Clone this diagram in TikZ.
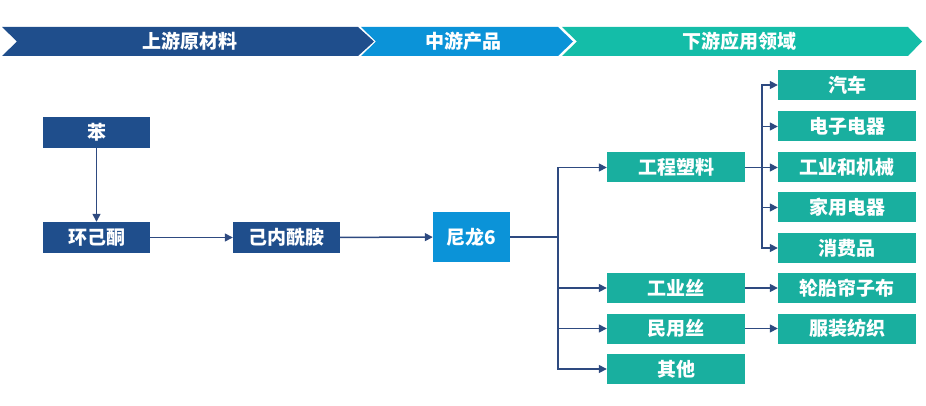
\documentclass[tikz,border=0pt]{standalone}
\usepackage{fontspec}
\newfontfamily\cjk{Noto Sans CJK SC}
\usetikzlibrary{arrows.meta}
\definecolor{upblue}{HTML}{1F4E8C}
\definecolor{midblue}{HTML}{0B93D8}
\definecolor{downteal}{HTML}{14BDA8}
\definecolor{boxteal}{HTML}{19AF9F}
\definecolor{linkblue}{HTML}{2E4A80}
\tikzset{
  box/.style={inner sep=0pt, text=white, font=\cjk\bfseries\fontsize{19}{21}\selectfont},
  upbox/.style={box, fill=upblue, minimum width=107pt, minimum height=31pt},
  nylonbox/.style={box, fill=midblue, minimum width=77pt, minimum height=50pt},
  usebox/.style={box, fill=boxteal, minimum width=138pt, minimum height=30pt},
  head/.style={text=white, font=\cjk\bfseries\fontsize{19}{21}\selectfont},
  link/.style={draw=linkblue, line width=1.5pt},
  arr/.style={link, -{Triangle[length=8pt,width=8pt]}}
}
\begin{document}
\begin{tikzpicture}[x=1pt,y=-1pt]
\useasboundingbox (0,0) rectangle (926,406);
% header chevrons
\fill[upblue] (2,27) -- (358,27) -- (374,41.5) -- (358,56) -- (2,56) -- (17,41.5) -- cycle;
\fill[midblue] (361,27) -- (558,27) -- (573,41.5) -- (558,56) -- (361,56) -- (376,41.5) -- cycle;
\fill[downteal] (562,27) -- (908,27) -- (922,41.5) -- (908,56) -- (562,56) -- (577,41.5) -- cycle;
\node[head] (up) at (190,41.5) {上游原材料};
\node[head] (mid) at (463,41.5) {中游产品};
\node[head] (down) at (739,41.5) {下游应用领域};
% upstream
\node[upbox] (ben) at (96.5,132.5) {苯};
\node[upbox] (hjt) at (96.5,237.5) {环己酮};
\node[upbox] (jnxa) at (286.5,237.5) {己内酰胺};
\node[nylonbox] (nl) at (471.5,237) {尼龙6};
% products
\node[usebox] (gcsl) at (676,167.5) {工程塑料};
\node[usebox] (gys) at (676,288) {工业丝};
\node[usebox] (mys) at (676,328.5) {民用丝};
\node[usebox] (qt) at (676,369) {其他};
% uses
\node[usebox] (qc) at (847,85) {汽车};
\node[usebox] (dzdq) at (847,126.5) {电子电器};
\node[usebox] (gyjx) at (847,167.5) {工业和机械};
\node[usebox] (jydq) at (847,207.5) {家用电器};
\node[usebox] (xfp) at (847,248) {消费品};
\node[usebox] (ltlzb) at (847,288) {轮胎帘子布};
\node[usebox] (fzfz) at (847,328.5) {服装纺织};
% links
\draw[arr] (ben) -- (hjt);
\draw[arr] (hjt) -- (jnxa);
\draw[arr] (jnxa) -- (nl);
\coordinate (fanA) at (558,237);
\draw[link] (nl.east) -- (fanA);
\foreach \t in {gcsl,gys,mys,qt} \draw[arr] (fanA) |- (\t.west);
\coordinate (fanB) at (762,167.5);
\draw[arr] (gcsl) -- (gyjx);
\foreach \t in {qc,dzdq,jydq,xfp} \draw[arr] (fanB) |- (\t.west);
\draw[arr] (gys) -- (ltlzb);
\draw[arr] (mys) -- (fzfz);
\end{tikzpicture}
\end{document}
